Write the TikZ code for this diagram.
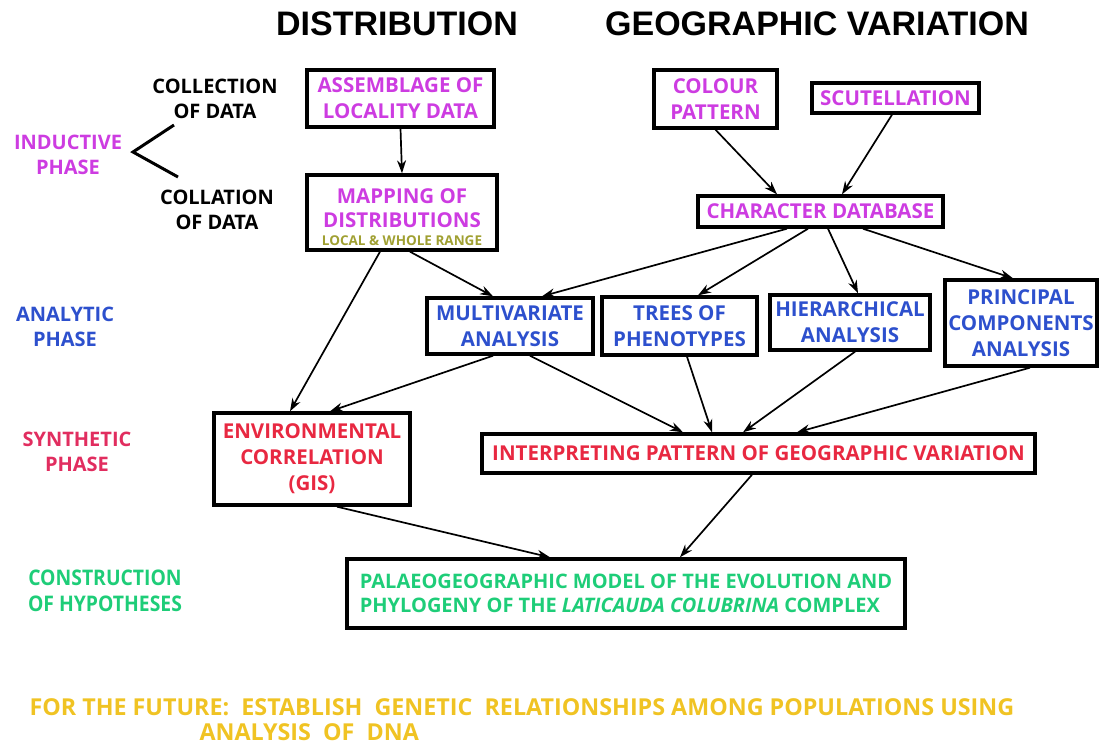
\documentclass[tikz,border=0pt]{standalone}
\usepackage{fontspec}
\setmainfont{Open Sans}
\newfontfamily\titlefont{Liberation Sans}
\newfontfamily\narrowfont[FakeStretch=0.9]{Open Sans}
\usetikzlibrary{arrows.meta}

\definecolor{indcol}{RGB}{205,60,225}
\definecolor{anacol}{RGB}{45,80,205}
\definecolor{syncol}{RGB}{232,40,65}
\definecolor{synlab}{RGB}{225,45,95}
\definecolor{concol}{RGB}{30,205,120}
\definecolor{futcol}{RGB}{240,195,35}
\definecolor{rangecol}{RGB}{160,160,50}

\begin{document}
\begin{tikzpicture}[x=1pt,y=-1pt,
    box/.style={draw,line width=3.4pt,align=center,inner sep=0pt,
        font=\bfseries\fontsize{20.5}{26}\selectfont},
    lab/.style={align=center,font=\bfseries\fontsize{20}{25}\selectfont},
    arr/.style={-{Stealth[length=13pt,width=9pt]},line width=1.7pt}]
    \useasboundingbox (0,0) rectangle (1099,745);

    % headings
    \node[font=\titlefont\bfseries\fontsize{34}{36}\selectfont] (hdist) at (397,24) {DISTRIBUTION};
    \node[font=\titlefont\bfseries\fontsize{34}{36}\selectfont] (hgeo) at (817,24) {GEOGRAPHIC VARIATION};

    % phases
    \node[lab,text=indcol] (ind) at (68,155) {INDUCTIVE\\PHASE};
    \node[lab] (coll) at (215,99) {COLLECTION\\OF DATA};
    \node[lab] (cola) at (217,210) {COLLATION\\OF DATA};
    \node[lab,text=anacol] (ana) at (65,327) {ANALYTIC\\PHASE};
    \node[lab,text=synlab] (syn) at (77,452) {SYNTHETIC\\PHASE};
    \node[lab,text=concol,font=\narrowfont\bfseries\fontsize{21.5}{26}\selectfont] (con) at (105,591)
        {CONSTRUCTION\\OF HYPOTHESES};

    % bracket
    \coordinate (brtop) at (174,125);
    \coordinate (brmid) at (133,152);
    \coordinate (brbot) at (178,177);
    \draw[line width=3pt] (brtop) -- (brmid) -- (brbot);

    % distribution boxes
    \node[box,text=indcol,minimum width=187pt,minimum height=57pt] (asm) at (400.5,98.5)
        {ASSEMBLAGE OF\\LOCALITY DATA};
    \node[box,text=indcol,minimum width=190pt,minimum height=75pt] (map) at (402,212.5)
        {\rule{0pt}{25pt}MAPPING OF\\[-2pt]DISTRIBUTIONS\\[-8pt]{\fontsize{13.5}{15}\selectfont\color{rangecol}LOCAL \& WHOLE RANGE}};

    % geographic variation boxes
    \node[box,text=indcol,minimum width=123pt,minimum height=58pt] (col) at (715.5,99)
        {COLOUR\\PATTERN};
    \node[box,text=indcol,minimum width=167pt,minimum height=30pt] (scu) at (895.5,98)
        {SCUTELLATION};
    \node[box,text=indcol,minimum width=245pt,minimum height=31pt] (chr) at (820.5,211.5)
        {CHARACTER DATABASE};

    % analytic boxes
    \node[box,text=anacol,minimum width=166pt,minimum height=56pt] (mva) at (510,326)
        {MULTIVARIATE\\ANALYSIS};
    \node[box,text=anacol,minimum width=155pt,minimum height=58pt] (tre) at (679.5,326)
        {TREES OF\\PHENOTYPES};
    \node[box,text=anacol,minimum width=160pt,minimum height=55pt] (hie) at (850,322.5)
        {HIERARCHICAL\\ANALYSIS};
    \node[box,text=anacol,minimum width=152pt,minimum height=86pt] (pca) at (1021,323)
        {PRINCIPAL\\COMPONENTS\\ANALYSIS};

    % synthetic boxes
    \node[box,text=syncol,minimum width=196pt,minimum height=92pt] (env) at (312,459)
        {ENVIRONMENTAL\\CORRELATION\\(GIS)};
    \node[box,text=syncol,minimum width=553pt,minimum height=39pt] (itp) at (758.5,453.5)
        {INTERPRETING PATTERN OF GEOGRAPHIC VARIATION};

    % hypothesis box
    \node[box,text=concol,align=left,minimum width=558pt,minimum height=69pt,
        font=\bfseries\fontsize{20}{24}\selectfont] (pal) at (626,593.5)
        {PALAEOGEOGRAPHIC MODEL OF THE EVOLUTION AND\\PHYLOGENY OF THE \textit{LATICAUDA COLUBRINA} COMPLEX};

    % future work
    \node[anchor=base west,text=futcol,font=\bfseries\fontsize{23.3}{26}\selectfont] (fut1) at (26,715)
        {FOR THE FUTURE:\ \ ESTABLISH\ \ GENETIC\ \ RELATIONSHIPS AMONG POPULATIONS USING};
    \node[anchor=base west,text=futcol,font=\bfseries\fontsize{23.3}{26}\selectfont] (fut2) at (196,740)
        {ANALYSIS\ \ OF\ \ DNA};

    % arrows
    \draw[arr] (asm.south) -- (map.north);
    \draw[arr] (col.south) -- ([xshift=-43.5pt]chr.north);
    \draw[arr] ([xshift=-3.5pt]scu.south) -- ([xshift=21.5pt]chr.north);
    \draw[arr] ([xshift=-22pt]map.south) -- ([xshift=-22pt]env.north);
    \draw[arr] ([xshift=8pt]map.south) -- ([xshift=-17pt]mva.north);
    \draw[arr] ([xshift=-33.5pt]chr.south) -- ([xshift=32pt]mva.north);
    \draw[arr] ([xshift=-12.5pt]chr.south) -- ([xshift=18.5pt]tre.north);
    \draw[arr] ([xshift=7.5pt]chr.south) -- ([xshift=8pt]hie.north);
    \draw[arr] ([xshift=42.5pt]chr.south) -- ([xshift=-8pt]pca.north);
    \draw[arr] ([xshift=-17pt]mva.south) -- ([xshift=18pt]env.north);
    \draw[arr] ([xshift=20pt]mva.south) -- ([xshift=-75.5pt]itp.north);
    \draw[arr] ([xshift=7.5pt]tre.south) -- ([xshift=-46.5pt]itp.north);
    \draw[arr] ([xshift=5pt]hie.south) -- ([xshift=-15.5pt]itp.north);
    \draw[arr] ([xshift=9pt]pca.south) -- ([xshift=38.5pt]itp.north);
    \draw[arr] ([xshift=25pt]env.south) -- ([xshift=-76pt]pal.north);
    \draw[arr] ([xshift=-6.5pt]itp.south) -- ([xshift=54pt]pal.north);

\end{tikzpicture}
\end{document}
